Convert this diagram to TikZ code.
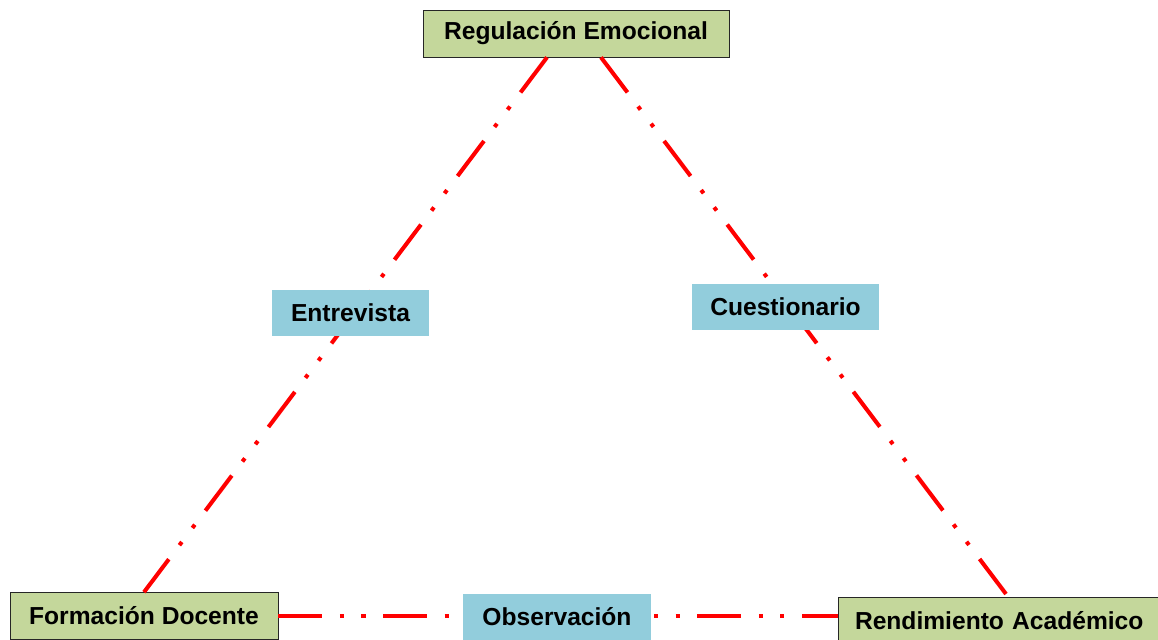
\documentclass[tikz,border=0pt]{standalone}
\usepackage{fontspec}
\setmainfont{Liberation Sans}
\usetikzlibrary{positioning}

\definecolor{boxgreen}{RGB}{196,215,155}
\definecolor{boxblue}{RGB}{146,205,220}

\tikzset{
  concept/.style={draw=black!85,thin,fill=boxgreen,minimum height=0.94cm,font=\fontsize{14}{16}\selectfont\bfseries},
  method/.style={fill=boxblue,minimum height=0.92cm,font=\fontsize{14}{16}\selectfont\bfseries},
  link/.style={red,line width=2.3pt,dash pattern=on 25pt off 10pt on 2.3pt off 10pt on 2.3pt off 10pt}
}

\begin{document}
\begin{tikzpicture}
\useasboundingbox (0,0) rectangle (23.16,12.78);

\node[concept,minimum width=6.12cm] (Reg) at (11.52,12.11) {Regulación Emocional};
\node[concept,minimum width=5.36cm] (For) at (2.88,0.46) {Formación Docente};
\node[concept,inner xsep=0.34cm,text width=6.8cm,align=left] (Ren) at (20.50,0.37) {Rendimiento Académico};

\draw[link] ([xshift=-0.58cm]Reg.south) -- (For.north);
\draw[link] ([xshift=0.5cm]Reg.south) -- ([xshift=-0.34cm]Ren.north);
\draw[link] (For.east) -- (Ren.west |- For.east);

\node[method,minimum width=3.14cm] (Ent) at (7.01,6.53) {Entrevista};
\node[method,minimum width=3.74cm] (Cue) at (15.71,6.64) {Cuestionario};
\node[method,minimum width=3.76cm] (Obs) at (11.14,0.44) {Observación};

\end{tikzpicture}
\end{document}
